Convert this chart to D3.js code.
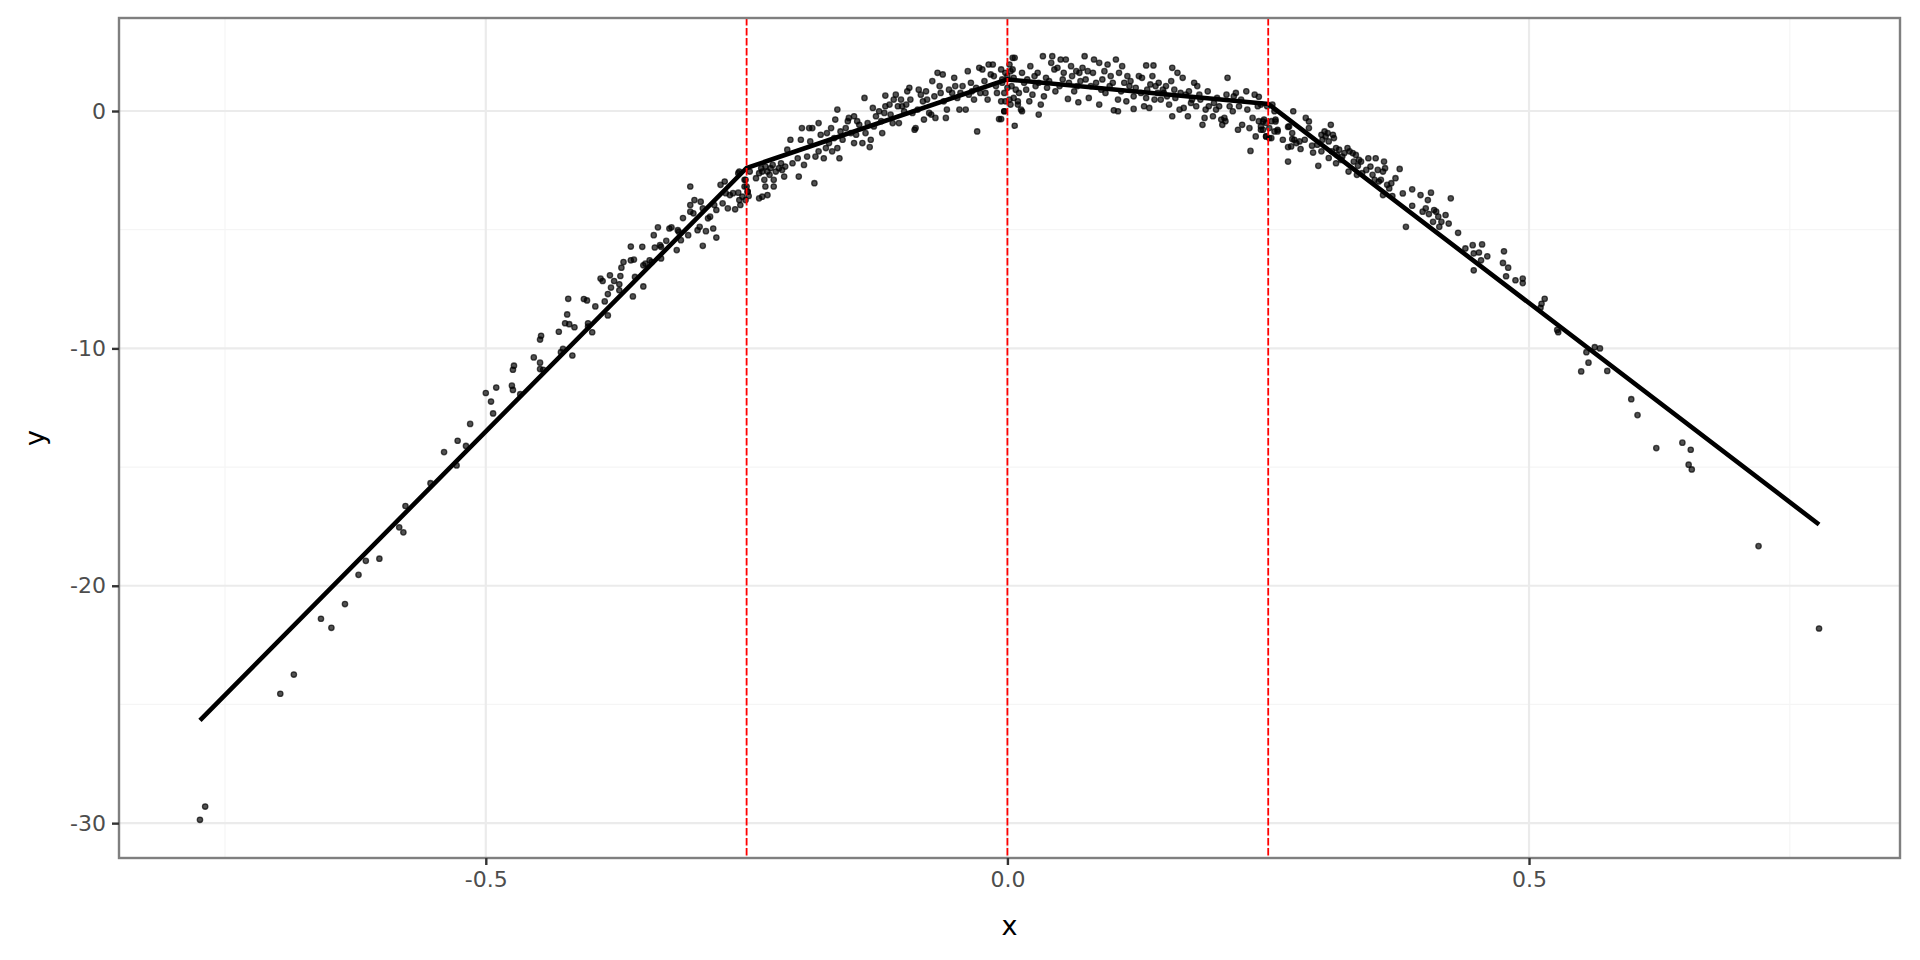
<!DOCTYPE html>
<html>
<head>
<meta charset="utf-8">
<script src="https://cdn.jsdelivr.net/npm/d3@7"></script>
<style>
  html, body { margin: 0; padding: 0; background: #fff; }
  svg { display: block; font-family: "DejaVu Sans", sans-serif; }
</style>
</head>
<body>
<div id="canvas"></div>
<script>
// scatter points, one array per stretch of the curve
const leftTail = [
  [-0.774,-29.86],[-0.769,-29.3],[-0.697,-24.55],[-0.684,-23.74],[-0.658,-21.39],[-0.648,-21.77],
  [-0.635,-20.77],[-0.622,-19.54],[-0.615,-18.95],[-0.602,-18.86],[-0.583,-17.54],[-0.579,-17.75],
  [-0.577,-16.64],[-0.553,-15.68],[-0.540,-14.37],[-0.528,-14.93],[-0.527,-13.89],[-0.519,-14.11],
  [-0.515,-13.18]
];
const leftArm = [
  [-0.500,-11.88],[-0.495,-12.24],[-0.493,-12.74],[-0.490,-11.65],[-0.475,-11.57],[-0.474,-11.75],
  [-0.474,-10.9],[-0.473,-10.73],[-0.467,-11.93],[-0.454,-10.38],[-0.448,-9.63],[-0.447,-9.47],
  [-0.448,-10.6],[-0.448,-10.87],[-0.445,-10.9],[-0.430,-9.30],[-0.428,-10.16],[-0.426,-10.02],
  [-0.422,-8.57],[-0.424,-8.94],[-0.420,-8.98],[-0.415,-9.11],[-0.417,-10.3],[-0.421,-7.91],
  [-0.406,-7.92],[-0.403,-7.98],[-0.402,-8.94],[-0.402,-9.08],[-0.398,-9.32],[-0.395,-8.23],
  [-0.390,-7.06],[-0.388,-7.16],[-0.386,-8.02],[-0.383,-7.71],[-0.383,-8.61],[-0.381,-6.92],
  [-0.380,-7.44],[-0.377,-7.16],[-0.372,-7.55],[-0.372,-7.30],[-0.371,-6.95],[-0.370,-6.6],
  [-0.368,-6.36],[-0.361,-5.71],[-0.361,-6.29],[-0.358,-6.26],[-0.359,-7.81],[-0.357,-6.99],
  [-0.350,-5.72],[-0.349,-6.5],[-0.347,-6.43],[-0.349,-7.39],[-0.343,-6.29],[-0.341,-6.36],
  [-0.339,-5.23],[-0.338,-5.75],[-0.335,-4.9],[-0.333,-5.65],[-0.332,-5.72],[-0.332,-6.21],
  [-0.327,-5.47],[-0.324,-4.95],[-0.322,-4.9],[-0.317,-5.86],[-0.316,-5.02],[-0.315,-5.09],
  [-0.313,-5.44],[-0.311,-4.51],[-0.306,-5.23],[-0.304,-3.18],[-0.304,-3.96],[-0.304,-4.24],
  [-0.301,-4.31],[-0.300,-3.75],[-0.297,-5.02],[-0.295,-4.88],[-0.294,-3.82],[-0.292,-4.1],
  [-0.292,-5.68],[-0.289,-5.06],[-0.287,-4.52],[-0.285,-4.45],[-0.282,-4.95],[-0.279,-5.33],
  [-0.279,-4.17],[-0.281,-3.96],[-0.275,-3.11],[-0.271,-2.97],[-0.273,-3.89],[-0.270,-3.46],
  [-0.266,-3.54],[-0.268,-4.1],[-0.261,-4.14],[-0.263,-3.46],[-0.258,-3.44],[-0.257,-3.75],
  [-0.258,-2.62],[-0.257,-2.55],[-0.252,-2.9],[-0.250,-3.18],[-0.249,-3.4],[-0.248,-3.58],
  [-0.247,-2.55],[-0.254,-3.61],[-0.252,-3.18],[-0.251,-3.75],[-0.249,-3.40],[-0.256,-3.96],
  [-0.251,-2.90]
];
const centerLeft = [
  [-0.241,-2.83],[-0.238,-2.62],[-0.236,-2.41],[-0.235,-2.55],[-0.233,-2.90],[-0.232,-2.34],
  [-0.230,-2.55],[-0.228,-2.69],[-0.227,-2.41],[-0.225,-2.27],[-0.224,-2.90],[-0.222,-2.55],
  [-0.219,-2.41],[-0.217,-2.20],[-0.216,-2.48],[-0.213,-2.34],[-0.211,-1.63],[-0.238,-3.68],
  [-0.235,-3.61],[-0.230,-3.54],[-0.232,-3.18],[-0.224,-3.18],[-0.214,-2.76],[-0.208,-1.21],
  [-0.206,-2.20],[-0.201,-1.99],[-0.200,-2.76],[-0.197,-0.72],[-0.198,-1.21],[-0.195,-2.27],
  [-0.192,-1.92],[-0.190,-0.72],[-0.187,-0.72],[-0.189,-1.28],[-0.185,-3.04],[-0.184,-1.92],
  [-0.181,-0.51],[-0.179,-1.00],[-0.181,-1.70],[-0.176,-1.99],[-0.174,-1.56],[-0.173,-0.93],
  [-0.171,-1.35],[-0.169,-0.72],[-0.168,-1.70],[-0.165,-0.36],[-0.163,0.06],[-0.166,-1.14],
  [-0.163,-1.56],[-0.161,-1.99],[-0.160,-0.86],[-0.158,-1.21],[-0.155,-0.72],[-0.153,-0.43],
  [-0.152,-0.29],[-0.150,-0.93],[-0.147,-0.22],[-0.144,-0.43],[-0.147,-1.35],[-0.145,-1.00],
  [-0.142,-0.58],[-0.139,-1.35],[-0.137,0.55],[-0.136,-0.93],[-0.134,-0.51],[-0.131,-1.21],
  [-0.132,-1.52],[-0.129,0.13],[-0.128,-0.65],[-0.126,-0.22],[-0.123,-0.01],[-0.121,-0.43],
  [-0.120,-0.93],[-0.118,-0.08],[-0.117,0.65],[-0.117,0.20],[-0.113,0.27],[-0.112,-0.15],
  [-0.110,-0.51],[-0.109,0.48],[-0.107,0.69],[-0.105,0.20],[-0.104,-0.51],[-0.102,0.48],
  [-0.101,0.20],[-0.099,-0.01],[-0.097,0.27],[-0.096,0.83],[-0.094,0.98],[-0.093,0.48],
  [-0.091,-0.08],[-0.089,-0.79],[-0.088,-0.72],[-0.086,0.06],[-0.085,0.90],[-0.083,0.69],
  [-0.081,0.41],[-0.080,-0.36],[-0.078,0.83],[-0.077,0.48],[-0.075,-0.08],[-0.073,-0.15],
  [-0.072,1.26],[-0.070,0.62],[-0.069,-0.29],[-0.067,1.61],[-0.065,1.05],[-0.064,0.76],
  [-0.062,1.54],[-0.061,0.41],[-0.059,-0.29],[-0.058,0.06],[-0.056,0.90],[-0.053,0.76],
  [-0.051,1.40],[-0.050,1.05],[-0.048,0.55],[-0.046,0.06],[-0.045,0.76],[-0.043,1.05],
  [-0.040,0.06],[-0.038,1.68],[-0.037,0.69],[-0.035,1.19],[-0.034,0.83],[-0.032,0.48],
  [-0.030,0.98],[-0.029,-0.86],[-0.027,1.82],[-0.026,0.76],[-0.024,1.75],[-0.022,1.26],
  [-0.021,0.76],[-0.019,0.48],[-0.018,1.96],[-0.016,1.54],[-0.014,1.96],[-0.013,1.47],
  [-0.011,1.05],[-0.010,0.76],[-0.008,-0.34],[-0.006,0.41],[-0.005,1.33],[-0.003,-0.01],
  [-0.002,1.61],[0.000,0.98],[0.002,0.48],[0.005,1.75],[0.007,2.24],[0.007,-0.62],
  [0.003,0.27],[0.008,0.90],[0.010,0.41]
];
const centerRight = [
  [-0.006,1.75],[-0.005,1.19],[-0.003,0.76],[-0.002,0.41],[0.000,1.47],[0.002,1.96],
  [0.003,1.68],[0.005,2.24],[0.006,1.40],[-0.003,-0.01],[-0.006,-0.34],[0.004,1.05],
  [0.006,0.55],[0.010,0.27],[0.013,0.06],[0.014,-0.01],[0.011,0.76],[0.014,1.61],
  [0.016,1.19],[0.018,0.90],[0.019,1.33],[0.021,0.41],[0.022,1.89],[0.024,0.69],
  [0.026,1.47],[0.027,1.05],[0.029,1.61],[0.030,-0.15],[0.030,1.19],[0.032,0.27],
  [0.034,2.31],[0.035,0.62],[0.037,1.40],[0.038,0.98],[0.040,1.26],[0.042,2.03],
  [0.043,2.31],[0.045,1.75],[0.046,0.83],[0.048,1.82],[0.050,1.05],[0.051,2.17],
  [0.053,1.33],[0.054,1.61],[0.056,2.17],[0.058,0.51],[0.059,1.19],[0.061,1.89],
  [0.062,1.47],[0.064,0.83],[0.066,1.68],[0.067,1.05],[0.068,0.37],[0.069,1.61],
  [0.070,1.26],[0.072,1.82],[0.074,2.31],[0.075,1.33],[0.077,1.68],[0.078,0.55],
  [0.080,1.05],[0.082,1.61],[0.083,2.17],[0.085,1.19],[0.088,0.27],[0.088,2.03],
  [0.090,0.90],[0.091,1.33],[0.093,1.68],[0.094,0.76],[0.096,1.96],[0.098,1.05],
  [0.099,1.47],[0.101,1.19],[0.102,0.03],[0.104,2.17],[0.106,-0.01],[0.106,0.48],
  [0.107,1.61],[0.109,0.83],[0.110,1.89],[0.112,1.19],[0.114,0.41],[0.115,1.47],
  [0.117,1.05],[0.118,1.26],[0.121,0.09],[0.121,0.62],[0.123,0.98],[0.126,1.47],
  [0.128,0.76],[0.129,1.40],[0.131,0.20],[0.133,1.92],[0.133,0.55],[0.134,0.90],
  [0.136,0.13],[0.137,1.12],[0.139,1.47],[0.140,1.92],[0.141,0.48],[0.142,1.05],
  [0.144,0.76],[0.145,1.19],[0.147,0.48],[0.149,0.90],[0.150,0.76],[0.152,1.05],
  [0.153,0.62],[0.155,0.27],[0.157,1.26],[0.158,1.82],[0.158,-0.22],[0.160,0.90],
  [0.161,0.55],[0.163,1.61],[0.165,0.06],[0.166,0.76],[0.168,1.40],[0.169,0.13],
  [0.171,0.69],[0.173,-0.22],[0.174,0.83],[0.176,0.34],[0.177,0.48],[0.179,1.19],
  [0.181,0.20],[0.182,1.05],[0.184,0.69],[0.185,0.48],[0.187,-0.58],[0.189,-0.29],
  [0.190,0.06],[0.192,0.83],[0.193,0.20],[0.197,-0.22],[0.198,0.34],[0.200,0.06],
  [0.201,0.55],[0.203,0.20],[0.205,-0.36],[0.206,-0.58],[0.208,-0.29],[0.209,-0.43],
  [0.210,0.69],[0.211,1.40],[0.213,0.20],[0.216,-0.01],[0.217,0.62],[0.219,0.76],
  [0.221,-0.79],[0.222,0.20],[0.224,0.48],[0.225,-0.58],[0.229,0.83],[0.230,0.06],
  [0.232,-0.72],[0.233,-1.68],[0.235,-0.29],[0.237,0.69],[0.238,-1.07],[0.240,0.20],
  [0.241,-0.43],[0.243,-0.65],[0.245,-0.79],[0.246,-0.36],[0.248,-1.07],[0.249,0.20],
  [0.251,-1.14],[0.253,-0.43],[0.256,-0.01],[0.257,-0.36],[0.259,-0.79]
];
const rightArm = [
  [0.241,0.60],[0.243,0.27],[0.254,0.27],[0.245,-0.44],[0.248,-0.50],[0.243,-0.79],
  [0.251,-0.72],[0.257,-0.44],[0.256,-0.86],[0.259,-0.86],[0.248,-1.07],[0.253,-1.14],
  [0.274,-0.01],[0.264,-1.21],[0.269,-0.67],[0.270,-0.65],[0.269,-2.13],[0.273,-0.93],
  [0.273,-1.18],[0.275,-1.21],[0.272,-1.49],[0.269,-1.52],[0.277,-1.35],[0.281,-1.60],
  [0.280,-1.28],[0.285,-1.21],[0.286,-0.29],[0.289,-0.44],[0.289,-0.72],[0.292,-1.46],
  [0.293,-1.75],[0.297,-1.42],[0.298,-2.31],[0.301,-1.00],[0.302,-1.21],[0.304,-0.86],
  [0.305,-1.07],[0.307,-0.93],[0.308,-1.28],[0.310,-0.58],[0.312,-1.00],[0.313,-1.14],
  [0.301,-1.70],[0.308,-1.98],[0.311,-1.70],[0.315,-1.56],[0.316,-1.85],[0.318,-1.63],
  [0.320,-2.06],[0.315,-2.20],[0.321,-1.92],[0.323,-1.77],[0.326,-1.56],[0.328,-1.70],
  [0.327,-2.55],[0.331,-1.77],[0.332,-2.13],[0.334,-1.85],[0.336,-2.31],[0.337,-2.06],
  [0.335,-2.69],[0.339,-2.13],[0.340,-2.62],[0.344,-2.48],[0.346,-1.99],[0.348,-2.34],
  [0.350,-2.69],[0.352,-2.90],[0.353,-1.99],[0.355,-2.48],[0.356,-2.97],[0.358,-2.90],
  [0.360,-2.55],[0.361,-2.13],[0.362,-2.41],[0.364,-3.11],[0.366,-3.26],[0.368,-3.04],
  [0.360,-3.54],[0.369,-3.58],[0.372,-2.83],[0.376,-2.44],[0.379,-3.47],[0.382,-4.88],
  [0.388,-3.30],[0.388,-3.99],[0.396,-3.54],[0.398,-4.24],[0.403,-3.75],[0.401,-4.10],
  [0.404,-4.34],[0.406,-3.44],[0.409,-4.17],[0.411,-4.24],[0.413,-4.45],[0.416,-4.67],
  [0.414,-4.88],[0.420,-4.38],[0.423,-4.74],[0.425,-3.68],[0.432,-5.13],[0.408,-4.67],
  [0.439,-5.79],[0.446,-5.65],[0.455,-5.62],[0.447,-6.00],[0.452,-5.96],[0.460,-6.12],
  [0.454,-6.29],[0.447,-6.71],[0.476,-5.91],[0.475,-6.40],[0.480,-6.60],[0.478,-6.96],
  [0.487,-7.13],[0.494,-7.06],[0.494,-7.25],[0.515,-7.91],[0.512,-8.12],[0.511,-8.29],
  [0.527,-9.22]
];
const rightTail = [
  [0.528,-9.32],[0.563,-9.95],[0.568,-10.0],[0.555,-10.16],[0.557,-10.6],[0.550,-10.97],
  [0.575,-10.95],[0.598,-12.14],[0.604,-12.81],[0.622,-14.2],[0.647,-13.97],[0.655,-14.27],
  [0.653,-14.9],[0.656,-15.1],[0.720,-18.33],[0.778,-21.8]
];

// piecewise linear fit
const fitX = [-0.774, -0.25, 0, 0.25, 0.778];
const fitY = [-25.67, -2.4, 1.33, 0.3, -17.42];

// knots (red dashed)
const knots = [-0.25, 0, 0.25];

// axes
const xTicks = [-0.5, 0, 0.5];
const xTickLabels = ["-0.5", "0.0", "0.5"];
const xMinor = [-0.75, -0.25, 0.25, 0.75];
const yTicks = [-30, -20, -10, 0];
const yTickLabels = ["-30", "-20", "-10", "0"];
const yMinor = [-25, -15, -5];

function draw() {
    const W = 1920, H = 960;
    const margin = {top: 18, right: 20, bottom: 102, left: 119};
    const width = W - margin.left - margin.right,
        height = H - margin.top - margin.bottom;

    const points = [].concat(leftTail, leftArm, centerLeft, centerRight, rightArm, rightTail);
    const fit = fitX.map((d, i) => [d, fitY[i]]);

    // ggplot style 5% expansion
    const xe = d3.extent(points.map(d => d[0]).concat(fitX));
    const ye = d3.extent(points.map(d => d[1]).concat(fitY));
    const xPad = (xe[1] - xe[0]) * 0.05, yPad = (ye[1] - ye[0]) * 0.05;

    const x = d3.scaleLinear().domain([xe[0] - xPad, xe[1] + xPad]).range([0, width]);
    const y = d3.scaleLinear().domain([ye[0] - yPad, ye[1] + yPad]).range([height, 0]);

    const svg = d3.select("#canvas").append("svg")
        .attr("width", W)
        .attr("height", H);
    const g = svg.append("g")
        .attr("transform", `translate(${margin.left},${margin.top})`);

    // grid
    g.selectAll(".xminor").data(xMinor).join("line")
        .attr("x1", d => x(d)).attr("x2", d => x(d))
        .attr("y1", 0).attr("y2", height)
        .attr("stroke", "#f5f5f5").attr("stroke-width", 1.2);
    g.selectAll(".yminor").data(yMinor).join("line")
        .attr("x1", 0).attr("x2", width)
        .attr("y1", d => y(d)).attr("y2", d => y(d))
        .attr("stroke", "#f5f5f5").attr("stroke-width", 1.2);
    g.selectAll(".xmajor").data(xTicks).join("line")
        .attr("x1", d => x(d)).attr("x2", d => x(d))
        .attr("y1", 0).attr("y2", height)
        .attr("stroke", "#ebebeb").attr("stroke-width", 2.2);
    g.selectAll(".ymajor").data(yTicks).join("line")
        .attr("x1", 0).attr("x2", width)
        .attr("y1", d => y(d)).attr("y2", d => y(d))
        .attr("stroke", "#ebebeb").attr("stroke-width", 2.2);

    // points
    g.append("g").selectAll("circle").data(points).join("circle")
        .attr("cx", d => x(d[0]))
        .attr("cy", d => y(d[1]))
        .attr("r", 2.7)
        .attr("fill", "#000").attr("fill-opacity", 0.68)
        .attr("stroke", "#000").attr("stroke-opacity", 0.68).attr("stroke-width", 1.3);

    // fitted line
    g.append("path")
        .datum(fit)
        .attr("d", d3.line().x(d => x(d[0])).y(d => y(d[1])))
        .attr("fill", "none")
        .attr("stroke", "#000")
        .attr("stroke-width", 4.6);

    // knot lines
    g.selectAll(".knot").data(knots).join("line")
        .attr("x1", d => x(d)).attr("x2", d => x(d))
        .attr("y1", 0).attr("y2", height)
        .attr("stroke", "#ff0000").attr("stroke-width", 1.8)
        .attr("stroke-dasharray", "7.5,2.5");

    // panel border
    g.append("rect")
        .attr("width", width).attr("height", height)
        .attr("fill", "none").attr("stroke", "#7f7f7f").attr("stroke-width", 2.4);

    // axes
    const xAxis = g.append("g")
        .attr("transform", `translate(0,${height})`)
        .call(d3.axisBottom(x).tickValues(xTicks)
            .tickFormat((d, i) => xTickLabels[i]).tickSize(7).tickPadding(6));
    const yAxis = g.append("g")
        .call(d3.axisLeft(y).tickValues(yTicks)
            .tickFormat((d, i) => yTickLabels[i]).tickSize(7).tickPadding(6));
    [xAxis, yAxis].forEach(a => {
        a.select(".domain").remove();
        a.selectAll(".tick line").attr("stroke", "#333333").attr("stroke-width", 2.4);
        a.selectAll(".tick text")
            .attr("fill", "#4d4d4d")
            .style("font-size", "22px")
            .style("font-family", "DejaVu Sans, sans-serif");
    });

    // axis titles
    svg.append("text")
        .attr("x", margin.left + width / 2).attr("y", 935)
        .attr("text-anchor", "middle")
        .style("font-size", "27px").attr("fill", "#000")
        .text("x");
    svg.append("text")
        .attr("transform", `translate(44,${margin.top + height / 2}) rotate(-90)`)
        .attr("text-anchor", "middle")
        .style("font-size", "27px").attr("fill", "#000")
        .text("y");
}

draw();
</script>
</body>
</html>
